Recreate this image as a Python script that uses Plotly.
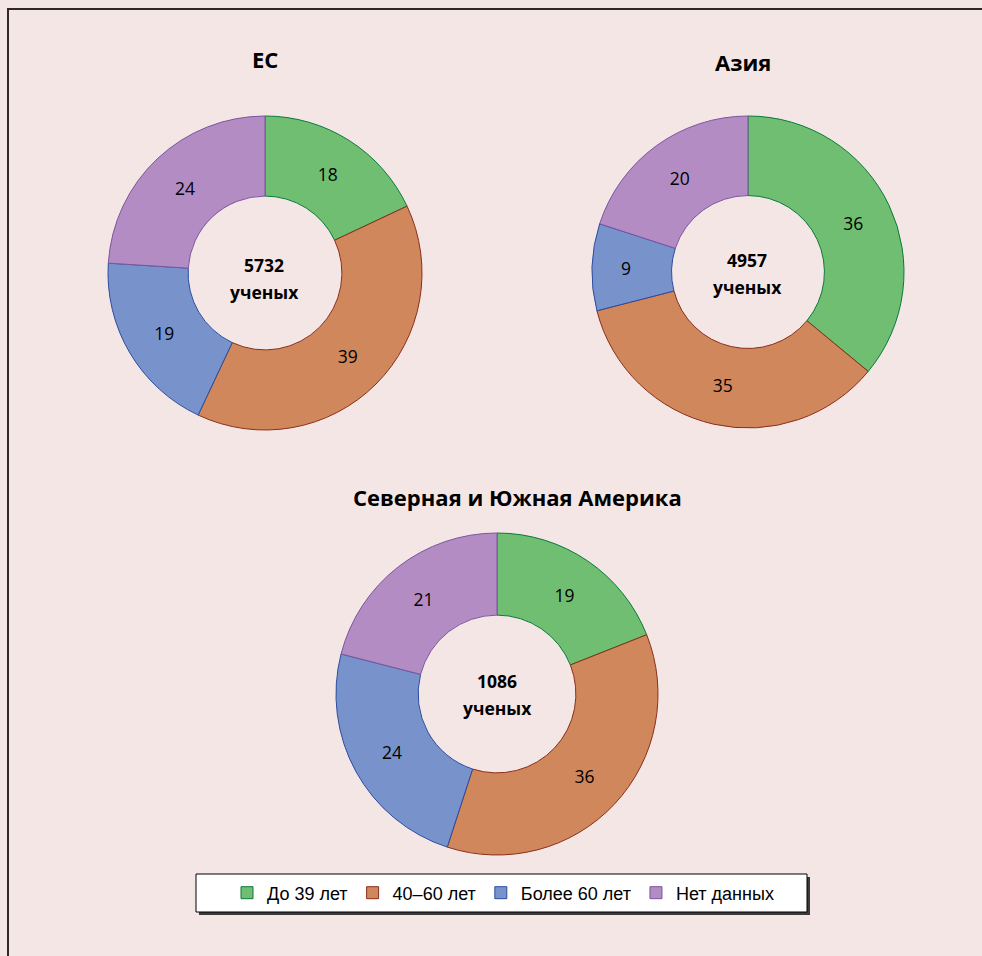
import plotly.graph_objects as go

W, H = 982, 956

categories = ["До 39 лет", "40–60 лет", "Более 60 лет", "Нет данных"]
regions = ["ЕС", "Азия", "Северная и Южная Америка"]
eu_values = [18, 39, 19, 24]
asia_values = [36, 35, 9, 20]
americas_values = [19, 36, 24, 21]
totals = [5732, 4957, 1086]
unit_label = "ученых"

fill_colors = ["#6fbe72", "#d0875c", "#7893cc", "#b28cc3"]
line_colors = ["#0a7a3a", "#8b2e1a", "#2b4d9f", "#7a55a0"]
bg = "#f5e6e6"

def px_x(x):
    return x / W

def px_y(y):
    return 1 - y / H

# (center_x, center_y, radius) in pixels
pie_geom = [(265, 273, 157), (748, 272, 156), (497, 694, 161)]
title_pos = [(265, 59), (743, 62), (517, 497)]
center_text_pos = [(264, 265, 292), (747, 260, 287), (497, 681, 708)]
series = [eu_values, asia_values, americas_values]

fig = go.Figure()
for i, (vals, (cx, cy, r)) in enumerate(zip(series, pie_geom)):
    fig.add_trace(go.Pie(
        labels=categories,
        values=vals,
        hole=0.49,
        sort=False,
        direction="clockwise",
        rotation=0,
        textinfo="value",
        textposition="inside",
        insidetextorientation="horizontal",
        textfont=dict(family="Open Sans", size=17.5, color="black"),
        marker=dict(colors=fill_colors, line=dict(color=line_colors, width=1)),
        domain=dict(x=[px_x(cx - r), px_x(cx + r)], y=[px_y(cy + r), px_y(cy - r)]),
        showlegend=(i == 0),
        hoverinfo="label+value",
    ))

annotations = []
for name, (tx, ty) in zip(regions, title_pos):
    annotations.append(dict(
        x=px_x(tx), y=px_y(ty), xref="paper", yref="paper",
        text="<b>%s</b>" % name, showarrow=False,
        font=dict(family="Open Sans", size=22, color="black"),
        xanchor="center", yanchor="middle"))
for tot, (tx, y1, y2) in zip(totals, center_text_pos):
    for txt, ty in ((str(tot), y1), (unit_label, y2)):
        annotations.append(dict(
            x=px_x(tx), y=px_y(ty), xref="paper", yref="paper",
            text="<b>%s</b>" % txt, showarrow=False,
            font=dict(family="Open Sans", size=17.5, color="black"),
            xanchor="center", yanchor="middle"))

shapes = [
    # frame
    dict(type="rect", xref="paper", yref="paper",
         x0=px_x(8), x1=px_x(1000), y0=px_y(1000), y1=px_y(9),
         line=dict(color="#2e2828", width=2), fillcolor="rgba(0,0,0,0)", layer="below"),
    # legend shadow
    dict(type="rect", xref="paper", yref="paper",
         x0=px_x(199), x1=px_x(810), y0=px_y(915), y1=px_y(877),
         line=dict(color="#3a3a3a", width=0), fillcolor="#3a3a3a", layer="below"),
    # legend box
    dict(type="rect", xref="paper", yref="paper",
         x0=px_x(196), x1=px_x(807), y0=px_y(912), y1=px_y(874),
         line=dict(color="black", width=1), fillcolor="white", layer="below"),
]

fig.update_layout(
    width=W, height=H,
    margin=dict(l=0, r=0, t=0, b=0),
    paper_bgcolor=bg, plot_bgcolor=bg,
    annotations=annotations,
    shapes=shapes,
    showlegend=True,
    legend=dict(
        orientation="h", x=px_x(503), y=px_y(893), xanchor="center", yanchor="middle",
        bgcolor="rgba(0,0,0,0)", borderwidth=0, itemwidth=30,
        font=dict(family="Liberation Sans", size=18, color="black"),
        itemclick=False, itemdoubleclick=False,
    ),
)

fig.write_html(
    "out.html",
    config={"displayModeBar": False},
    post_script="document.body.style.margin='0';document.body.style.overflow='hidden';",
)
